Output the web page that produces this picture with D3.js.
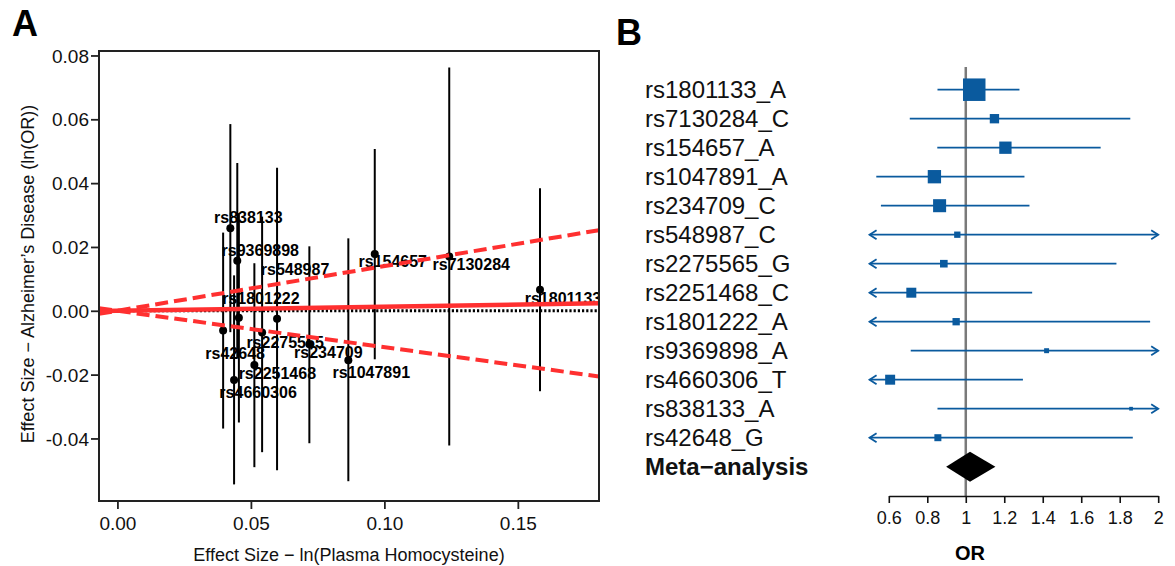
<!DOCTYPE html>
<html lang="en">
<head>
<meta charset="UTF-8">
<title>Homocysteine MR scatter and forest plot</title>
<script src="https://d3js.org/d3.v7.min.js"></script>
<style>
  body { margin:0; background:#fff; font-family:"Liberation Sans", Arial, Helvetica, sans-serif; }
  svg { display:block; }
</style>
</head>
<body>
<div id="chart"></div>
<script>
// ---- panel A data: SNP effects ----
const snps = ["rs1801133","rs7130284","rs154657","rs1047891","rs234709","rs548987","rs2275565",
              "rs2251468","rs1801222","rs9369898","rs4660306","rs838133","rs42648"];
const hcyEffect = [0.1583,0.1243,0.0964,0.0865,0.0719,0.0598,0.0542,0.0513,0.0455,0.0449,0.0437,0.0423,0.0396];
const adEffect  = [0.0066,0.0170,0.0178,-0.0155,-0.0105,-0.0025,-0.0068,-0.0170,-0.0022,0.0157,-0.0217,0.0259,-0.0062];
const adLower   = [-0.0252,-0.0422,-0.0152,-0.0534,-0.0415,-0.0500,-0.0443,-0.0490,-0.0350,-0.0149,-0.0544,-0.0067,-0.0369];
const adUpper   = [0.0384,0.0762,0.0507,0.0227,0.0202,0.0448,0.0295,0.0149,0.0306,0.0463,0.0111,0.0585,0.0245];
const mrSlope = [0.013, -0.114, 0.140]; // estimate, lower, upper
const xTicksA = [0, 0.05, 0.10, 0.15];
const yTicksA = [-0.04, -0.02, 0, 0.02, 0.04, 0.06, 0.08];

// ---- panel B data: odds ratios ----
const forestLabels = ["rs1801133_A","rs7130284_C","rs154657_A","rs1047891_A","rs234709_C","rs548987_C",
                      "rs2275565_G","rs2251468_C","rs1801222_A","rs9369898_A","rs4660306_T","rs838133_A","rs42648_G"];
const orEst   = [1.044,1.149,1.206,0.837,0.864,0.956,0.886,0.717,0.950,1.420,0.607,1.859,0.855];
const orLower = [0.853,0.709,0.852,0.535,0.559,0.434,0.440,0.385,0.460,0.714,0.288,0.853,0.394];
const orUpper = [1.279,1.855,1.701,1.305,1.331,2.120,1.783,1.345,1.958,2.800,1.297,3.990,1.868];
const weights = [33.1,5.7,9.9,11.6,11.1,2.6,3.8,6.5,3.5,1.6,6.5,0.9,3.2];
const metaLabel = "Meta\u2212analysis";
const metaOR = [1.022, 0.898, 1.154]; // estimate, lower, upper
const orTicks = [0.6, 0.8, 1, 1.2, 1.4, 1.6, 1.8, 2];

const W = 1175, H = 566;
const svg = d3.select("#chart").append("svg").attr("width", W).attr("height", H);
svg.append("rect").attr("width", W).attr("height", H).attr("fill", "#fff");

// ================= panel A =================
const box = {left: 99, right: 599, top: 51, bottom: 501};
const x = d3.scaleLinear().domain([-0.0069, 0.1804]).range([box.left, box.right]);
const y = d3.scaleLinear().domain([-0.0596, 0.0814]).range([box.bottom, box.top]);

svg.append("clipPath").attr("id", "clipA")
  .append("rect").attr("x", box.left).attr("y", box.top)
  .attr("width", box.right - box.left).attr("height", box.bottom - box.top);

const plotA = svg.append("g").attr("clip-path", "url(#clipA)");

// null line (dotted)
plotA.append("line")
  .attr("x1", x.range()[0]).attr("x2", x.range()[1])
  .attr("y1", y(0)).attr("y2", y(0))
  .attr("stroke", "#000").attr("stroke-width", 3).attr("stroke-dasharray", "2.2 2");

// label nudges (pixels from each point); labels overlap as in the original figure
const nudge = {
  rs1801133:[23,9], rs7130284:[22,8], rs154657:[18,8], rs1047891:[23,12], rs234709:[19,8],
  rs548987:[18,-49], rs2275565:[23,10], rs2251468:[23,8], rs1801222:[22,-19], rs9369898:[23,-10],
  rs4660306:[24,12], rs838133:[18,-11], rs42648:[12,23]
};
plotA.selectAll(".lab").data(snps).enter().append("text")
  .attr("class", "lab")
  .attr("x", (d, i) => x(hcyEffect[i]) + nudge[d][0])
  .attr("y", (d, i) => y(adEffect[i]) + nudge[d][1])
  .attr("text-anchor", "middle").attr("dominant-baseline", "central")
  .attr("font-size", 16).attr("font-weight", "bold")
  .text(d => d);

// error bars
plotA.selectAll(".err").data(snps).enter().append("line")
  .attr("x1", (d, i) => x(hcyEffect[i])).attr("x2", (d, i) => x(hcyEffect[i]))
  .attr("y1", (d, i) => y(adLower[i])).attr("y2", (d, i) => y(adUpper[i]))
  .attr("stroke", "#000").attr("stroke-width", 2);

plotA.selectAll(".pt").data(snps).enter().append("circle")
  .attr("cx", (d, i) => x(hcyEffect[i])).attr("cy", (d, i) => y(adEffect[i]))
  .attr("r", 4).attr("fill", "#000");

// MR estimate lines through origin
const xd = x.domain();
mrSlope.forEach((b, k) => {
  plotA.append("line")
    .attr("x1", x(xd[0])).attr("y1", y(b * xd[0]))
    .attr("x2", x(xd[1])).attr("y2", y(b * xd[1]))
    .attr("stroke", "#ff3030")
    .attr("stroke-width", k === 0 ? 4.5 : 4)
    .attr("stroke-dasharray", k === 0 ? null : "13 6");
});

// frame
svg.append("rect").attr("x", box.left).attr("y", box.top)
  .attr("width", box.right - box.left).attr("height", box.bottom - box.top)
  .attr("fill", "none").attr("stroke", "#222").attr("stroke-width", 2);

const xAxisA = svg.append("g").attr("transform", `translate(0,${box.bottom})`)
  .call(d3.axisBottom(x).tickValues(xTicksA).tickSize(8).tickSizeOuter(0).tickPadding(8)
    .tickFormat(d => d.toFixed(2)));
const yAxisA = svg.append("g").attr("transform", `translate(${box.left},0)`)
  .call(d3.axisLeft(y).tickValues(yTicksA).tickSize(8).tickSizeOuter(0).tickPadding(2)
    .tickFormat(d => d.toFixed(2)));
[xAxisA, yAxisA].forEach(g => {
  g.select(".domain").remove();
  g.selectAll(".tick line").attr("stroke", "#222").attr("stroke-width", 1.8);
  g.selectAll(".tick text").attr("font-size", 19).attr("fill", "#111")
    .attr("font-family", "Liberation Sans, Arial, sans-serif");
});
yAxisA.selectAll(".tick text").attr("dy", "0.35em");

svg.append("text").attr("x", (box.left + box.right) / 2 + 0).attr("y", 561)
  .attr("text-anchor", "middle").attr("font-size", 18).attr("fill", "#111")
  .text("Effect Size \u2212 ln(Plasma Homocysteine)");
svg.append("text").attr("transform", "translate(34,274) rotate(-90)")
  .attr("text-anchor", "middle").attr("font-size", 18).attr("fill", "#111")
  .text("Effect Size \u2212 Alzheimer\u2019s Disease (ln(OR))");

svg.append("text").attr("x", 12).attr("y", 36).attr("font-size", 36)
  .attr("font-weight", "bold").text("A");

// ================= panel B =================
const orX = d3.scaleLinear().domain([0.6, 2]).range([888.8, 1158.2]);
const rows = forestLabels.concat([metaLabel]);
const rowY = d3.scalePoint().domain(rows).range([89.7, 466.7]);
const boxSize = d3.scaleSqrt().domain([0, d3.max(weights)]).range([0, 22.5]);
const clipLo = 0.5, clipHi = 2.0;
const blue = "#0a5a9e";

svg.append("text").attr("x", 616).attr("y", 45).attr("font-size", 36)
  .attr("font-weight", "bold").text("B");

svg.selectAll(".flab").data(rows).enter().append("text")
  .attr("x", 645).attr("y", d => rowY(d))
  .attr("dominant-baseline", "central")
  .attr("font-size", 24)
  .attr("font-weight", d => d === metaLabel ? "bold" : "normal")
  .attr("fill", "#111")
  .text(d => d);

// reference line at OR = 1
svg.append("line")
  .attr("x1", orX(1)).attr("x2", orX(1)).attr("y1", 67).attr("y2", 496)
  .attr("stroke", "#7a7a7a").attr("stroke-width", 2.5);

const fg = svg.append("g");
forestLabels.forEach((lab, i) => {
  const yy = rowY(lab);
  const lo = Math.max(orLower[i], clipLo), hi = Math.min(orUpper[i], clipHi);
  fg.append("line").attr("x1", orX(lo)).attr("x2", orX(hi)).attr("y1", yy).attr("y2", yy)
    .attr("stroke", blue).attr("stroke-width", 1.8);
  if (orLower[i] < clipLo) {
    const x0 = orX(clipLo);
    fg.append("path").attr("d", `M${x0 + 7},${yy - 4.5}L${x0},${yy}L${x0 + 7},${yy + 4.5}`)
      .attr("fill", "none").attr("stroke", blue).attr("stroke-width", 1.8);
  }
  if (orUpper[i] > clipHi) {
    const x1 = orX(clipHi);
    fg.append("path").attr("d", `M${x1 - 7},${yy - 4.5}L${x1},${yy}L${x1 - 7},${yy + 4.5}`)
      .attr("fill", "none").attr("stroke", blue).attr("stroke-width", 1.8);
  }
  const s = boxSize(weights[i]);
  fg.append("rect").attr("x", orX(orEst[i]) - s / 2).attr("y", yy - s / 2)
    .attr("width", s).attr("height", s).attr("fill", blue);
});

// meta-analysis diamond
const my = rowY(metaLabel);
fg.append("path")
  .attr("d", `M${orX(metaOR[1])},${my}L${orX(metaOR[0])},${my - 15}L${orX(metaOR[2])},${my}L${orX(metaOR[0])},${my + 15}Z`)
  .attr("fill", "#000");

const axB = svg.append("g").attr("transform", "translate(0,496)")
  .call(d3.axisBottom(orX).tickValues(orTicks).tickSize(7).tickSizeOuter(0).tickPadding(8)
    .tickFormat(d => String(d)));
axB.select(".domain").attr("stroke", "#111").attr("stroke-width", 1.6);
axB.selectAll(".tick line").attr("stroke", "#111").attr("stroke-width", 1.6);
axB.selectAll(".tick text").attr("font-size", 18).attr("fill", "#111")
  .attr("font-family", "Liberation Sans, Arial, sans-serif");

svg.append("text").attr("x", 970).attr("y", 560).attr("text-anchor", "middle")
  .attr("font-size", 20).attr("font-weight", "bold").text("OR");
</script>
</body>
</html>
